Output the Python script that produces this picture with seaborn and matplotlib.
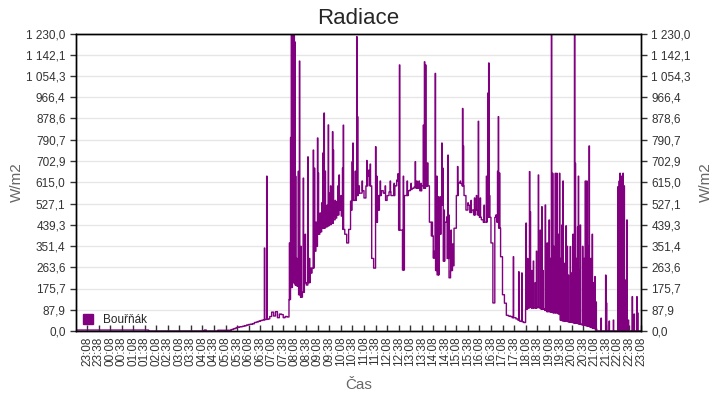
import numpy as np
import pandas as pd
import seaborn as sns
import matplotlib.pyplot as plt
from matplotlib.patches import Patch

# minutes counted from 23:08; base level sampled every 5 minutes from 22:38
base_minutes = list(range(-30, 1441, 5))

night = [4] * 38 + [0] * 29 + [4] + [0] * 6 + [3] * 7
dawn = [6, 9, 12, 15, 17, 18, 20, 22, 25, 27, 28, 30, 35, 37, 40, 43, 45,
        47, 48, 50, 60, 78, 62, 80, 55, 70, 68, 55, 60, 58]
morning = [130, 180, 200, 190, 185, 150, 140, 160, 200, 190, 200, 240, 260,
           330, 350, 400, 410, 425, 425, 430, 435, 440, 445, 460, 467]
midday = [480, 500, 475, 420, 400, 364, 420, 500, 540, 540, 560, 570, 570,
          580, 550, 600, 640, 600, 300, 260, 450, 500, 560, 580, 570, 540,
          560, 575, 560, 560, 600, 620, 417, 417, 252, 560, 560, 580, 585,
          590, 595]
afternoon = [590, 590, 580, 600, 590, 600, 600, 450, 393, 302, 250, 232, 400,
             520, 289, 450, 300, 220, 250, 270, 425, 560, 612, 610, 600, 560,
             500, 520, 490, 500, 480, 500, 480, 470, 460, 450, 450, 470, 470,
             364, 116]
evening = [470, 450, 425, 307, 150, 115, 65, 62, 60, 55, 55, 50, 45, 40, 38,
           35, 90, 95, 100, 95, 95, 95, 100, 95, 90, 90, 85, 80, 80, 78, 75,
           75, 75, 70, 45, 42, 40, 40, 38, 36, 35, 33]
late = [32, 30, 28, 26, 24, 22, 20, 17, 14, 11, 8] + [0] * 24

base_radiace = night + dawn + morning + midday + afternoon + evening + late

# short one-minute peaks (minute from 23:08, W/m2)
spike_minutes = [461, 467,
                 526, 529, 531, 534, 536, 538, 540, 542, 545, 549, 552, 556,
                 562, 567, 574, 578, 582, 588, 591, 595, 599, 601, 606, 610,
                 613, 616, 619, 624, 627, 629, 633, 638, 640, 645,
                 649, 652, 655, 660, 664, 666, 685, 689, 691, 697, 701, 703,
                 707, 715, 727, 732, 736, 750, 753, 758, 762, 775, 788, 798,
                 805, 808, 812, 822,
                 832, 842, 853, 857, 863, 868, 874, 877, 880, 883, 885, 888,
                 897, 901, 905, 909, 913, 918, 922, 925, 928, 935, 938, 940,
                 946, 950, 954, 963, 970, 976, 978, 983, 990, 998, 1007, 1012,
                 1017, 1022, 1032, 1038, 1042, 1044, 1046, 1063, 1067, 1069,
                 1072,
                 1108, 1122, 1130, 1141, 1145, 1150, 1152, 1156, 1160, 1165,
                 1168, 1173, 1178, 1182, 1185, 1191, 1193, 1196, 1201, 1204,
                 1207, 1210, 1213, 1217, 1221, 1224, 1228, 1231, 1234, 1237,
                 1240, 1245, 1248, 1251, 1256, 1260, 1263, 1267, 1269, 1272,
                 1275, 1277, 1279, 1282, 1288, 1292, 1295, 1299, 1302, 1305,
                 1309, 1313, 1317, 1320, 1323,
                 1336, 1348, 1350, 1357, 1368, 1380, 1383, 1385, 1389, 1393,
                 1396, 1398, 1403, 1407, 1417, 1422, 1429, 1431]
spike_radiace = [343, 640,
                 364, 800, 1230, 1230, 785, 1230, 1195, 640, 300, 660, 1116, 350,
                 632, 400, 720, 300, 260, 748, 673, 450, 798, 653, 488, 530,
                 736, 901, 661, 520, 852, 570, 600, 824, 748, 540,
                 535, 600, 645, 560, 673, 851, 537, 700, 777, 661, 1217, 886,
                 600, 620, 705, 665, 690, 762, 640, 560, 620, 600, 620, 610,
                 624, 650, 1100, 640,
                 620, 610, 700, 620, 620, 610, 851, 1113, 1100, 620, 695, 600,
                 450, 330, 1065, 640, 555, 555, 777, 673, 500, 472, 727, 480,
                 417, 360, 425, 680, 620, 920, 765, 560, 530, 540, 550, 560,
                 867, 550, 520, 640, 984, 1108, 560, 480, 660, 886,
                 653,
                 307, 245, 240, 446, 300, 659, 493, 250, 289, 200,
                 330, 645, 417, 514, 250, 521, 287, 364, 459, 300,
                 1230, 652, 350, 652, 652, 400, 652, 300, 438, 620,
                 280, 435, 350, 231, 349, 240, 400, 1230, 693, 300,
                 430, 640, 250, 438, 350, 300, 620, 620, 350, 765,
                 300, 400, 200, 225, 120,
                 53, 231, 116, 41, 45, 597, 620, 652, 640, 652,
                 600, 211, 459, 45, 142, 70, 142, 75]

tick_minutes = list(range(0, 1441, 30))
tick_labels = ['%02d:%02d' % (((23 * 60 + 8 + m) // 60) % 24, (8 + m) % 60) for m in tick_minutes]


def base_at(m):
    return base_radiace[min((m + 30) // 5, len(base_radiace) - 1)]


parts = [pd.DataFrame({'cas': base_minutes, 'radiace': base_radiace, 'prio': 0}),
         pd.DataFrame({'cas': [m + 1 for m in spike_minutes],
                       'radiace': [base_at(m + 1) for m in spike_minutes], 'prio': 1}),
         pd.DataFrame({'cas': spike_minutes, 'radiace': spike_radiace, 'prio': 2})]
df = pd.concat(parts).sort_values(['cas', 'prio']).drop_duplicates('cas', keep='last')

sns.set_style('white')
plt.rcParams['font.family'] = ['Liberation Sans', 'DejaVu Sans']

fig = plt.figure(figsize=(7.2, 4), dpi=100)
ax = fig.add_axes([76 / 720, 1 - 331 / 400, 565 / 720, 297.5 / 400])

sns.lineplot(data=df, x='cas', y='radiace', ax=ax, color='#800080',
             linewidth=1, drawstyle='steps-post', estimator=None)

yticks = np.linspace(0, 1230, 15)
ylabels = [f'{v:,.1f}'.replace(',', ' ').replace('.', ',') for v in yticks]

ax.set_xlim(-28.6, 1440)
ax.set_ylim(0, 1230)
ax.set_yticks(yticks)
ax.set_yticklabels(ylabels)
ax.set_xticks(tick_minutes)
ax.set_xticklabels(tick_labels, rotation=90)
ax.grid(axis='y', color='#e6e6e6', linewidth=1)
ax.set_axisbelow(True)

ax.tick_params(axis='y', direction='out', length=4, width=1, labelsize=8.5,
               colors='#333333', left=True)
ax.tick_params(axis='x', direction='in', length=4, width=1, labelsize=8.5,
               colors='#333333', bottom=True, pad=4)
for s in ax.spines.values():
    s.set_color('black')
    s.set_linewidth(1)

ax.set_xlabel('Čas', fontsize=11, color='#666666')
ax.set_ylabel('W/m2', fontsize=11, color='#666666')
ax.xaxis.set_label_coords(0.5, -0.158)
ax.yaxis.set_label_coords(-0.092, 0.5)
ax.set_title('Radiace', fontsize=16, pad=7)

ax2 = ax.twinx()
ax2.set_ylim(0, 1230)
ax2.set_yticks(yticks)
ax2.set_yticklabels(ylabels)
ax2.tick_params(axis='y', direction='out', length=4, width=1, labelsize=8.5,
                colors='#333333', right=True)
ax2.set_ylabel('W/m2', fontsize=11, color='#666666')
ax2.yaxis.set_label_coords(1.103, 0.5)
for s in ax2.spines.values():
    s.set_color('black')
    s.set_linewidth(1)

ax.legend(handles=[Patch(color='#800080', label='Bouřňák')], loc='lower left',
          bbox_to_anchor=(-0.007, -0.02), frameon=False, fontsize=8.5,
          handlelength=0.9, handleheight=0.9, handletextpad=0.8,
          borderaxespad=0.5)

fig.savefig('out.png', dpi=100)
